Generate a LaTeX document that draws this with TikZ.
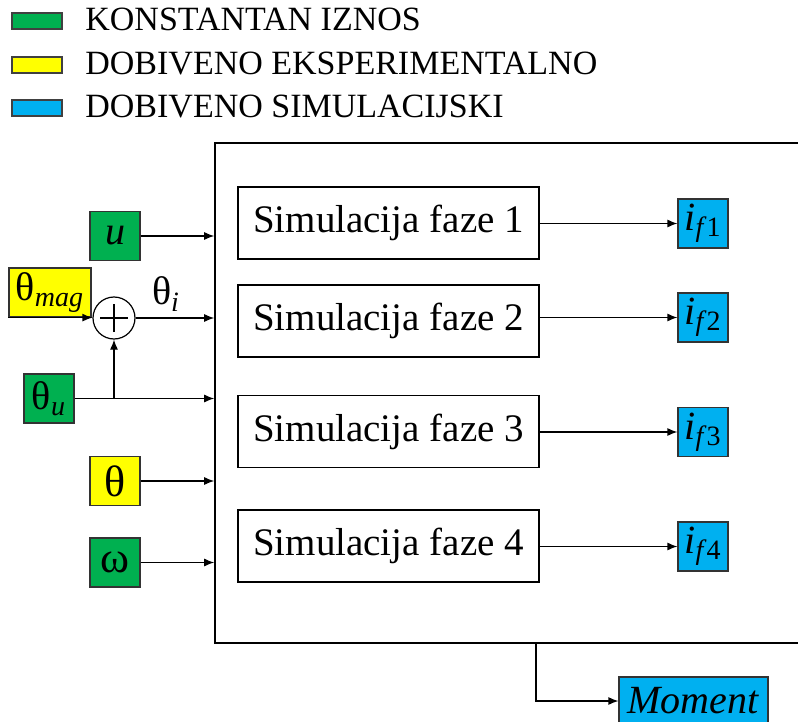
\documentclass[tikz,border=0pt]{standalone}
\usepackage{xcolor}
\usepackage{fontspec}
\setmainfont{Liberation Serif}
\usepackage{tikz}
\usetikzlibrary{arrows.meta}
\definecolor{konstgreen}{HTML}{00B050}
\definecolor{eksyellow}{HTML}{FFFF00}
\definecolor{simblue}{HTML}{00B0F0}

\begin{document}
\begin{tikzpicture}[x=0.5pt,y=-0.5pt,
  legbox/.style={draw=black!75,line width=0.6pt,minimum width=25pt,minimum height=8pt,inner sep=0pt},
  legtext/.style={anchor=base west,inner sep=0pt,font=\fontsize{17}{20}\selectfont},
  inbox/.style={draw=black!80,line width=0.6pt,minimum width=25pt,minimum height=24.5pt,inner sep=0pt,font=\fontsize{20}{24}\selectfont},
  simbox/.style={draw,line width=0.8pt,minimum width=150.5pt,minimum height=36pt,inner sep=0pt,font=\fontsize{19.5}{23}\selectfont},
  arr/.style={line width=0.6pt,-{Latex[length=5pt,width=4pt]}}]
\useasboundingbox (0,0) rectangle (798,722);
\node[legbox,fill=konstgreen] (lg1) at (37,21) {};
\node[legbox,fill=eksyellow] (lg2) at (37,65) {};
\node[legbox,fill=simblue] (lg3) at (37,108) {};
\node[legtext] (lt1) at (85,31) {KONSTANTAN IZNOS};
\node[legtext] (lt2) at (85,75) {DOBIVENO EKSPERIMENTALNO};
\node[legtext] (lt3) at (85,118) {DOBIVENO SIMULACIJSKI};
\node[draw,line width=0.8pt,minimum width=307.5pt,minimum height=250pt] (sim) at (522.5,393) {};
\node[simbox] (b1) at (388.5,223) {Simulacija faze 1};
\node[simbox] (b2) at (388.5,321) {Simulacija faze 2};
\node[simbox] (b3) at (388.5,431.5) {Simulacija faze 3};
\node[simbox] (b4) at (388.5,546) {Simulacija faze 4};
\node[inbox,fill=konstgreen] (u) at (115,236) {\textit{u}};
\node[inbox,fill=eksyellow,minimum width=41pt] (mag) at (50,292.5) {θ\textsubscript{\textit{mag}}};
\node[inbox,fill=konstgreen] (tu) at (49,398.5) {θ\textsubscript{\textit{u}}};
\node[inbox,fill=eksyellow,font=\fontsize{22}{26}\selectfont] (th) at (115,481) {θ};
\node[inbox,fill=konstgreen,font=\fontsize{22}{26}\selectfont] (om) at (115,562.5) {ω};
\node[draw,circle,line width=0.6pt,minimum size=21pt,inner sep=0pt] (sum) at (114,318) {};
\draw[line width=0.8pt] ([xshift=-7pt]sum.center) -- ([xshift=7pt]sum.center);
\draw[line width=0.8pt] ([yshift=-7pt]sum.center) -- ([yshift=7pt]sum.center);
\node[font=\fontsize{20}{24}\selectfont] (ti) at (166,294) {θ\textsubscript{\textit{i}}};
\node[inbox,fill=simblue] (f1) at (703,223.5) {\textit{i}\textsubscript{\textit{f}1}};
\node[inbox,fill=simblue] (f2) at (703,317.5) {\textit{i}\textsubscript{\textit{f}2}};
\node[inbox,fill=simblue] (f3) at (703,432) {\textit{i}\textsubscript{\textit{f}3}};
\node[inbox,fill=simblue] (f4) at (703,546.5) {\textit{i}\textsubscript{\textit{f}4}};
\node[inbox,fill=simblue,minimum width=74.5pt,minimum height=24pt] (mom) at (693.5,701) {\textit{Moment}};
\draw[arr] (u.east) -- (u -| sim.west);
\draw[arr] (mag.south west) -- (mag.south west -| sum.west);
\draw[arr] (sum.east) -- (sum -| sim.west);
\draw[arr] (tu.east) -- (tu -| sim.west);
\draw[arr] (tu -| sum) -- (sum.south);
\draw[arr] (th.east) -- (th -| sim.west);
\draw[arr] (om.east) -- (om -| sim.west);
\draw[arr] (b1.east |- f1) -- (f1.west);
\draw[arr] (b2.east |- f2) -- (f2.west);
\draw[arr] (b3.east |- f3) -- (f3.west);
\draw[arr] (b4.east |- f4) -- (f4.west);
\coordinate (mtap) at (536,643);
\draw[arr] (mtap) |- (mom.west);
\end{tikzpicture}
\end{document}
